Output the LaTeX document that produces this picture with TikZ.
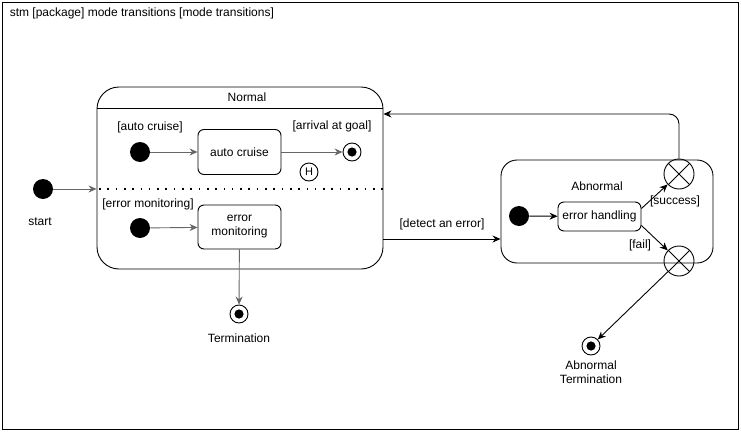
\documentclass[tikz,border=0pt]{standalone}
\usepackage{fontspec}
\setmainfont{Liberation Sans}
\usetikzlibrary{arrows.meta,positioning}
\definecolor{flowgray}{gray}{0.4}

\begin{document}
\begin{tikzpicture}[x=1pt, y=-1pt, line width=0.9pt,
    font=\fontsize{12}{14}\selectfont,
    initstate/.style={circle, fill=black, minimum size=20pt, inner sep=0pt},
    finalstate/.style={circle, draw, minimum size=18pt, inner sep=0pt,
        path picture={\fill (path picture bounding box.center) circle (4.6pt);}},
    exitpoint/.style={circle, draw, minimum size=30pt, inner sep=0pt,
        path picture={\draw (path picture bounding box.north west) -- (path picture bounding box.south east)
            (path picture bounding box.north east) -- (path picture bounding box.south west);}},
    statebox/.style={draw, rounded corners=6pt, minimum width=83pt, align=center, inner sep=2pt},
    region/.style={draw, inner sep=0pt},
    guard/.style={inner sep=1pt},
    trans/.style={draw=flowgray, -{Stealth[length=8pt, width=7pt]}},
    blacktrans/.style={draw=black, -{Stealth[length=8pt, width=7pt]}}]
    \useasboundingbox (0,0) rectangle (741,431);
    % frame
    \draw (2,2) rectangle (738,429);
    \node[anchor=west] (title) at (6,13) {stm [package] mode transitions [mode transitions]};
    % Normal
    \node[region, rounded corners=22pt, minimum width=286pt, minimum height=182pt] (normal) at (240,178) {};
    \draw (97,108) -- (383,108);
    \node (normalname) at (247,97) {Normal};
    \draw[line width=1.6pt, dash pattern=on 1.6pt off 6.7pt] (99,189) -- (383,189);
    \node[initstate] (start) at (43,189) {};
    \node (startlabel) at (40,222) {start};
    \node[guard] (acguard) at (150,127) {[auto cruise]};
    \node[initstate] (acinit) at (140,152) {};
    \node[statebox, minimum height=45pt] (autocruise) at (239.5,152) {auto cruise};
    \node[finalstate] (goal) at (352,152) {};
    \node[guard] (goalguard) at (332,126) {[arrival at goal]};
    \node[circle, draw, minimum size=18pt, inner sep=0pt, font=\fontsize{11}{13}\selectfont] (hist) at (309,172) {H};
    \node[guard] (emguard) at (148,204) {[error monitoring]};
    \node[initstate] (eminit) at (140,228) {};
    \node[statebox, minimum height=44pt] (errmon) at (239.5,227) {error\\monitoring};
    \node[finalstate] (term) at (239,314) {};
    \node (termlabel) at (239,338) {Termination};
    % Abnormal
    \node[region, rounded corners=16pt, minimum width=212pt, minimum height=103pt] (abnormal) at (607,211.5) {};
    \node (abnormalname) at (597,186) {Abnormal};
    \node[initstate] (ehinit) at (519,216) {};
    \node[statebox, minimum height=29pt] (errhand) at (599.5,216.5) {error handling};
    \node[exitpoint] (exitok) at (679,174) {};
    \node[exitpoint] (exitfail) at (679,261) {};
    \node[guard] (okguard) at (675,201) {[success]};
    \node[guard] (failguard) at (640,245) {[fail]};
    \node[finalstate] (abterm) at (591,346) {};
    \node[align=center] (abtermlabel) at (591,372) {Abnormal\\Termination};
    \coordinate (loopturn) at (679,114);
    \coordinate (detect) at (440,239);
    % transitions
    \draw[trans] (start) -- (start -| normal.west);
    \draw[trans] (acinit) -- (autocruise);
    \draw[trans] (autocruise) -- (goal);
    \draw[trans] (eminit) -- (errmon);
    \draw[trans] (errmon) -- (term);
    \draw[blacktrans] (normal.east |- detect) -- (abnormal.west |- detect)
        node[midway, above=5pt] (detectlabel) {[detect an error]};
    \draw[blacktrans] (ehinit) -- (errhand);
    \draw[blacktrans] ([yshift=8pt]errhand.east) -- (exitok);
    \draw[blacktrans] ([yshift=-9pt]errhand.east) -- (exitfail);
    \draw[blacktrans, rounded corners=10pt] (exitok.north) -- (loopturn) -- (normal.east |- loopturn);
    \draw[blacktrans] (exitfail) -- (abterm);
\end{tikzpicture}
\end{document}
